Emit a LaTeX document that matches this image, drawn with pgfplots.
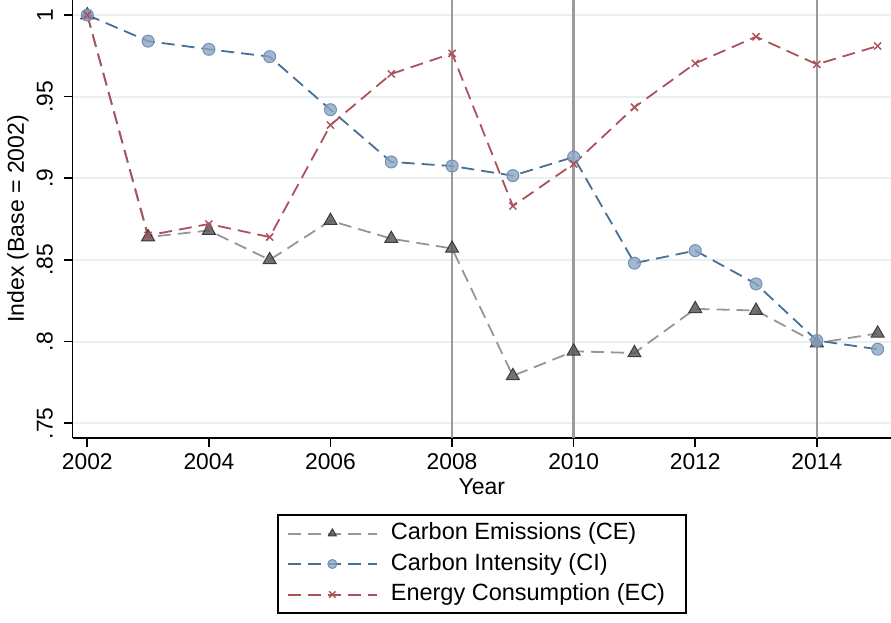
\documentclass[border=0pt]{standalone}
\usepackage{pgfplots}
\pgfplotsset{compat=1.18}
\usepackage{fontspec}
\setmainfont{Liberation Sans}
\definecolor{celine}{RGB}{150,150,150}
\definecolor{cemark}{RGB}{90,90,90}
\definecolor{cedraw}{RGB}{60,60,60}
\definecolor{ciline}{RGB}{72,112,150}
\definecolor{cimark}{RGB}{140,165,195}
\definecolor{cidraw}{RGB}{115,145,180}
\definecolor{ecline}{RGB}{172,82,92}
\definecolor{gridc}{RGB}{232,240,243}
\definecolor{vlinec}{RGB}{155,155,155}
\pgfplotstableread{
year CE CI EC
2002 1.000 1.000 1.000
2003 0.864 0.984 0.865
2004 0.868 0.979 0.872
2005 0.850 0.9745 0.864
2006 0.874 0.942 0.9326
2007 0.863 0.910 0.9639
2008 0.857 0.9075 0.9765
2009 0.779 0.9016 0.883
2010 0.794 0.913 0.9088
2011 0.793 0.848 0.9435
2012 0.820 0.8557 0.9704
2013 0.819 0.8353 0.9867
2014 0.799 0.8006 0.9698
2015 0.805 0.7953 0.981
}\datatable
\begin{document}
\begin{tikzpicture}
\clip (-72.7pt,-185.3pt) rectangle (818.3pt,437.7pt);
\begin{axis}[
  scale only axis, width=818.3pt, height=437.7pt,
  xmin=2001.76, xmax=2015.22, ymin=0.7411, ymax=1.0092,
  axis x line*=bottom, axis y line*=left,
  axis line style={line width=1.6pt, -},
  xtick={2002,2004,2006,2008,2010,2012,2014},
  xticklabels={2002,2004,2006,2008,2010,2012,2014},
  ytick={0.75,0.8,0.85,0.9,0.95,1},
  yticklabels={.75,.8,.85,.9,.95,1},
  tick align=outside, major tick length=9pt,
  tick style={line width=1.6pt, black},
  ymajorgrids, grid style={line width=2pt, gridc},
  /pgf/number format/assume math mode=true,
  ticklabel style={font=\fontsize{22.8}{27}\selectfont},
  xticklabel style={anchor=north, inner sep=0pt},
  yticklabel style={rotate=90, anchor=south, inner sep=0pt},
  xticklabel shift=6.6pt,
  yticklabel shift=10.7pt,
  xlabel={Year}, ylabel={Index (Base = 2002)},
  label style={font=\fontsize{23}{27}\selectfont},
  xlabel style={at={(axis description cs:0.5,-0.1126)}, anchor=center},
  ylabel style={at={(axis description cs:-0.0668,0.5)}, anchor=center},
  legend style={at={(axis description cs:0.5,-0.175)}, anchor=north,
    draw=black, line width=1.4pt, inner xsep=9pt, inner ysep=8pt,
    font=\fontsize{23.5}{27}\selectfont,
    nodes={inner sep=0pt, text height=16.5pt, text depth=4.5pt},
    row sep=9.5pt, column sep=13pt},
  legend cell align=left,
  legend image code/.code={\draw[mark repeat=2,mark phase=2,#1,mark size=4.5pt,line width=2pt] plot coordinates {(0pt,0pt) (44.5pt,0pt) (89pt,0pt)};},
  every axis plot/.append style={line width=1.8pt, dash pattern=on 13pt off 7pt},
]
\addplot[forget plot, vlinec, line width=2.5pt, solid] coordinates {(2008,0.7411) (2008,1.0092)};
\addplot[forget plot, vlinec, line width=2.5pt, solid] coordinates {(2010,0.7411) (2010,1.0092)};
\addplot[forget plot, vlinec, line width=2.5pt, solid] coordinates {(2014,0.7411) (2014,1.0092)};
\addplot[celine, mark=triangle*, mark size=7.5pt,
  mark options={solid, fill=cemark, draw=cedraw, fill opacity=0.85, line width=1pt}]
  table[x=year, y=CE] {\datatable};
\addlegendentry{\makebox[286pt][l]{Carbon Emissions (CE)}}
\addplot[ciline, mark=*, mark size=6pt,
  mark options={solid, fill=cimark, draw=cidraw, fill opacity=0.8, line width=1pt}]
  table[x=year, y=CI] {\datatable};
\addlegendentry{\makebox[286pt][l]{Carbon Intensity (CI)}}
\addplot[ecline, mark=x, mark size=5pt,
  mark options={solid, line width=1.5pt}]
  table[x=year, y=EC] {\datatable};
\addlegendentry{\makebox[286pt][l]{Energy Consumption (EC)}}
\end{axis}
\end{tikzpicture}
\end{document}
